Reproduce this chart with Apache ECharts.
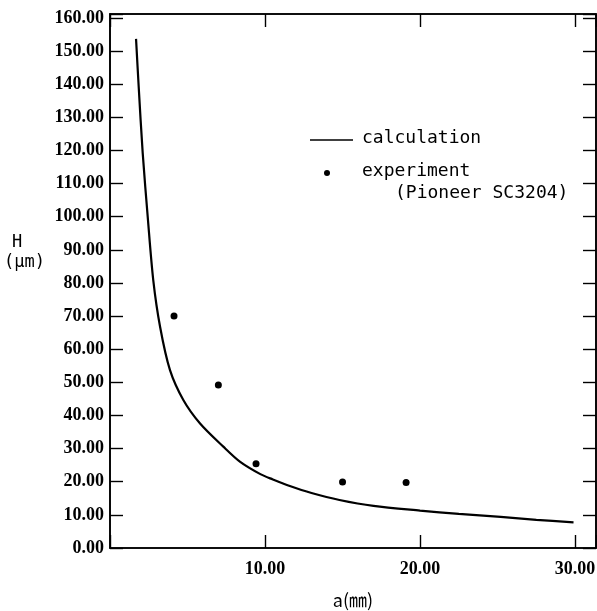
<!DOCTYPE html>
<html>
<head>
<meta charset="utf-8">
<script src="https://cdn.jsdelivr.net/npm/echarts@6/dist/echarts.min.js"></script>
<style>html,body{margin:0;padding:0;background:#fff;}#c{width:597px;height:611px;}</style>
</head>
<body>
<div id="c"></div>
<script>
// Calculated curve (a in mm, H in µm)
const calcA = [1.68, 1.85, 2.11, 2.45, 2.79, 3.23, 3.87, 4.73, 5.81, 7.31, 8.4, 9.7, 10.5, 11.6, 13.0, 14.8, 17.0, 20.0, 22.5, 25.2, 27.5, 29.9];
const calcH = [153.7, 139.3, 119.2, 99.0, 80.9, 66.8, 53.7, 44.7, 37.6, 30.6, 26.0, 22.3, 20.7, 18.7, 16.6, 14.5, 12.7, 11.3, 10.3, 9.4, 8.5, 7.75];
// Experimental points (Pioneer SC3204)
const expA = [4.13, 6.99, 9.42, 15.0, 19.1];
const expH = [70.0, 49.2, 25.4, 19.9, 19.8];
const xTicks = [10, 20, 30];
const yTicks = [0, 10, 20, 30, 40, 50, 60, 70, 80, 90, 100, 110, 120, 130, 140, 150, 160];

const chart = echarts.init(document.getElementById('c'), null, {renderer: 'canvas'});
const labelFont = {fontFamily: 'Liberation Serif', fontWeight: 'bold', fontSize: 18, color: '#000'};
const monoFont = 'DejaVu Sans Mono';
const line = {onZero: false, lineStyle: {color: '#000', width: 1.6}};
const tick = {inside: true, length: 13, lineStyle: {color: '#000', width: 1.4}};
chart.setOption({
  animation: false,
  backgroundColor: '#fff',
  grid: {left: 110, right: 1, top: 14, bottom: 63, show: true, borderColor: '#000', borderWidth: 1.6,
         containLabel: false, outerBoundsMode: 'none'},
  xAxis: [{
    type: 'value', min: 0, max: 31.35, interval: 10, position: 'bottom',
    axisLine: line, splitLine: {show: false}, axisTick: tick,
    axisLabel: Object.assign({margin: 12, formatter: v => xTicks.includes(v) ? v.toFixed(2) : ''}, labelFont),
    name: 'a(㎜)', nameLocation: 'middle', nameGap: 43,
    nameTextStyle: {fontFamily: 'Noto Sans CJK JP', fontSize: 18, color: '#000'}
  }, {
    type: 'value', min: 0, max: 31.35, interval: 10, position: 'top',
    axisLine: line, splitLine: {show: false}, axisTick: tick,
    axisLabel: {show: false}
  }],
  yAxis: [{
    type: 'value', min: 0, max: 161.2, interval: 10, position: 'left',
    axisLine: line, splitLine: {show: false}, axisTick: tick,
    axisLabel: Object.assign({margin: 6, formatter: v => yTicks.includes(v) ? v.toFixed(2) : ''}, labelFont)
  }, {
    type: 'value', min: 0, max: 161.2, interval: 10, position: 'right',
    axisLine: line, splitLine: {show: false}, axisTick: tick,
    axisLabel: {show: false}
  }],
  series: [{
    name: 'calculation', type: 'line', xAxisIndex: 0, yAxisIndex: 0,
    data: calcA.map((a, i) => [a, calcH[i]]),
    smooth: 0.3, showSymbol: false,
    lineStyle: {color: '#000', width: 2.2}
  }, {
    name: 'experiment', type: 'scatter', xAxisIndex: 0, yAxisIndex: 0,
    data: expA.map((a, i) => [a, expH[i]]),
    symbol: 'circle', symbolSize: 7, itemStyle: {color: '#000', opacity: 1}
  }],
  graphic: [
    {type: 'line', shape: {x1: 310, y1: 140, x2: 353, y2: 140}, style: {stroke: '#000', lineWidth: 1.6}},
    {type: 'text', left: 362, top: 129, style: {text: 'calculation', font: '18px "' + monoFont + '"', fill: '#000'}},
    {type: 'circle', shape: {cx: 327, cy: 173, r: 3}, style: {fill: '#000'}},
    {type: 'text', left: 362, top: 162, style: {text: 'experiment', font: '18px "' + monoFont + '"', fill: '#000'}},
    {type: 'text', left: 395, top: 184, style: {text: '(Pioneer SC3204)', font: '18px "' + monoFont + '"', fill: '#000'}},
    {type: 'text', left: 12, top: 234, style: {text: 'H', font: '17px "' + monoFont + '"', fill: '#000'}},
    {type: 'text', left: 4, top: 254, style: {text: '(μm)', font: '17px "' + monoFont + '"', fill: '#000'}}
  ]
});
</script>
</body>
</html>
